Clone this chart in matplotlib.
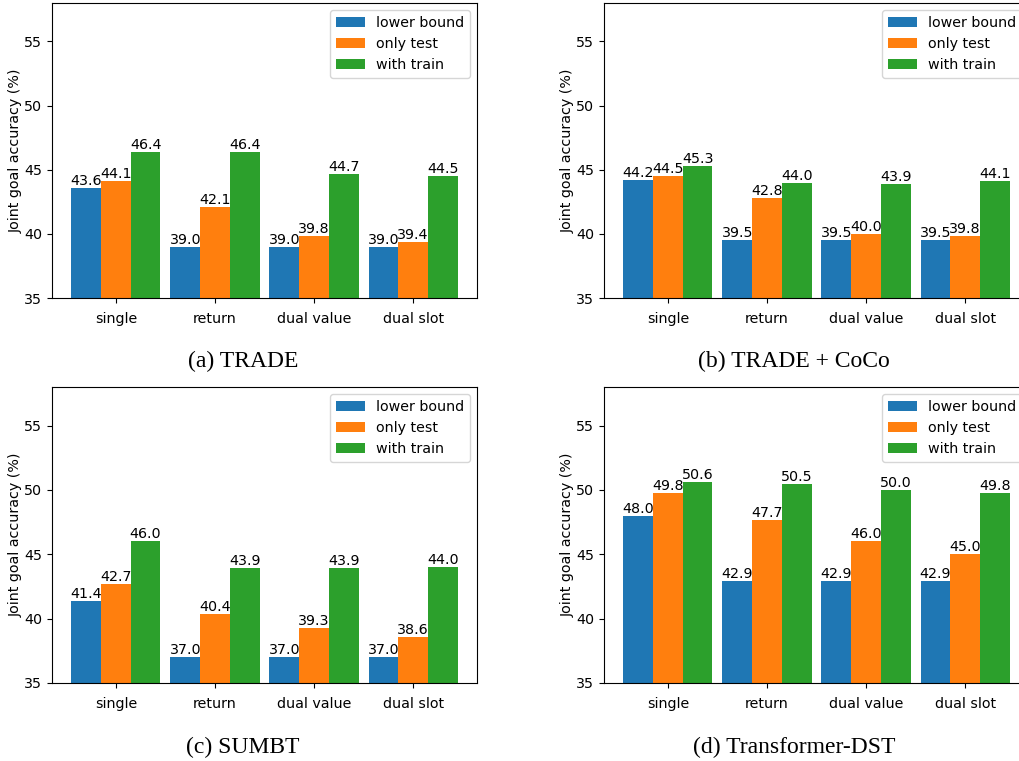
import numpy as np
import matplotlib
matplotlib.use("Agg")
import matplotlib.pyplot as plt

categories = ["single", "return", "dual value", "dual slot"]
series_names = ["lower bound", "only test", "with train"]
colors = ["#1f77b4", "#ff7f0e", "#2ca02c"]

trade_lower = [43.6, 39.0, 39.0, 39.0]
trade_only = [44.1, 42.1, 39.8, 39.4]
trade_train = [46.4, 46.4, 44.7, 44.5]

coco_lower = [44.2, 39.5, 39.5, 39.5]
coco_only = [44.5, 42.8, 40.0, 39.8]
coco_train = [45.3, 44.0, 43.9, 44.1]

sumbt_lower = [41.4, 37.0, 37.0, 37.0]
sumbt_only = [42.7, 40.4, 39.3, 38.6]
sumbt_train = [46.0, 43.9, 43.9, 44.0]

tdst_lower = [48.0, 42.9, 42.9, 42.9]
tdst_only = [49.8, 47.7, 46.0, 45.0]
tdst_train = [50.6, 50.5, 50.0, 49.8]

captions = ["(a) TRADE", "(b) TRADE + CoCo", "(c) SUMBT", "(d) Transformer-DST"]

panels = [
    (trade_lower, trade_only, trade_train),
    (coco_lower, coco_only, coco_train),
    (sumbt_lower, sumbt_only, sumbt_train),
    (tdst_lower, tdst_only, tdst_train),
]

W, H = 1019, 761
fig = plt.figure(figsize=(W / 100, H / 100), dpi=100)
plt.rcParams['font.size'] = 10.3

# axes pixel boxes: (left, top, right, bottom)
boxes = [
    (52, 3, 477, 298),
    (604, 3, 1029, 298),
    (52, 387, 477, 683),
    (604, 387, 1029, 683),
]
cap_pos = [(243, 361), (794, 361), (243, 747), (794, 747)]

x = np.arange(len(categories))
bw = 0.3
for i, (data, box, cap, cp) in enumerate(zip(panels, boxes, captions, cap_pos)):
    l, t, r, b = box
    ax = fig.add_axes([l / W, 1 - b / H, (r - l) / W, (b - t) / H])
    for j, (vals, name, c) in enumerate(zip(data, series_names, colors)):
        bars = ax.bar(x + (j - 1) * bw, vals, bw, label=name, color=c)
        ax.bar_label(bars, labels=[f"{v:.1f}" for v in vals], fontsize=10.3)
    ax.set_ylim(35, 58)
    ax.set_xticks(x)
    ax.set_xticklabels(categories, fontsize=10.3)
    ax.tick_params(axis='x', pad=6.5)
    ax.tick_params(axis='y', labelsize=10.3)
    ax.set_ylabel("Joint goal accuracy (%)", fontsize=10.3, labelpad=1)
    ax.legend(loc="upper right", fontsize=10.3)
    fig.text(cp[0] / W, 1 - cp[1] / H, cap, ha="center", va="center",
             fontsize=17, family=["Liberation Serif", "DejaVu Serif"])

fig.savefig("out.png", dpi=100)
